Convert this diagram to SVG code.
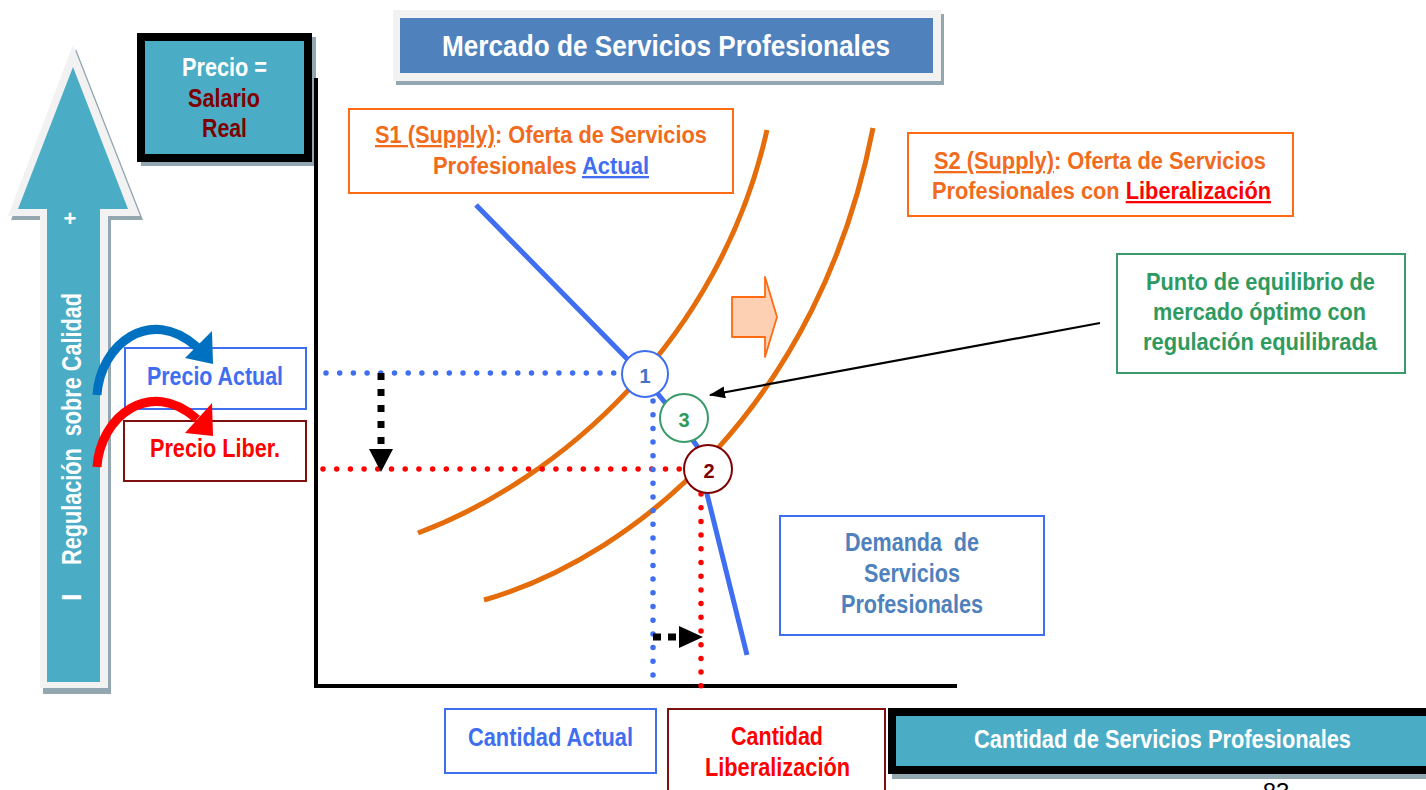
<svg xmlns="http://www.w3.org/2000/svg" width="1426" height="790" viewBox="0 0 1426 790">
<style>
text{font-family:"Liberation Sans",Arial,sans-serif;font-weight:bold;text-anchor:middle}
.w{fill:#ffffff}
.dr{fill:#7f0000}
.or{fill:#f26b1d}
.bl{fill:#3f6ef0}
.rd{fill:#ff0000}
.gr{fill:#2f9a5f}
.db{fill:#4f81bd}
.shadow{fill:#93a7b0}
.dot{fill:none;stroke-width:5.5;stroke-linecap:round}
.dash{fill:none;stroke:#000;stroke-width:7}
</style>
<defs>
<marker id="ah" viewBox="0 0 16 12" refX="15" refY="6" markerWidth="16" markerHeight="12" markerUnits="userSpaceOnUse" orient="auto">
<path d="M0,0 L16,6 L0,12 z" fill="#000"/>
</marker>
</defs>
<rect width="1426" height="790" fill="#ffffff"/>

<!-- big vertical arrow -->
<g id="regulacion-arrow">
<polygon class="shadow" points="76,49 143,220 111,220 111,694 43,694 43,220 11,220"/>
<polygon fill="#f2f2f2" points="73,45 140,216 108,216 108,688 40,688 40,216 8,216"/>
<polygon fill="#4bacc6" points="73,67 128,209 100,209 100,682 47,682 47,209 18,209"/>
<text class="w" x="70" y="226" font-size="22">+</text>
<text class="w" transform="translate(81,604) rotate(-90)" x="3" y="0" font-size="27" style="text-anchor:start">I</text>
<text class="w" transform="translate(81,565) rotate(-90)" x="0" y="0" font-size="27" style="text-anchor:start" textLength="272" lengthAdjust="spacingAndGlyphs" xml:space="preserve">Regulación  sobre Calidad</text>
</g>

<!-- Precio = Salario Real -->
<g id="precio-axis-label">
<rect class="shadow" x="141" y="37" width="175" height="129"/>
<rect x="137" y="33" width="175" height="129" fill="#000"/>
<rect x="145" y="41" width="159" height="113" fill="#4bacc6"/>
<text class="w" x="224.5" y="76" font-size="25" textLength="85" lengthAdjust="spacingAndGlyphs">Precio =</text>
<text class="dr" x="224" y="107" font-size="25" textLength="72" lengthAdjust="spacingAndGlyphs">Salario</text>
<text class="dr" x="224.5" y="137" font-size="25" textLength="45" lengthAdjust="spacingAndGlyphs">Real</text>
</g>

<!-- title -->
<g id="title">
<rect class="shadow" x="396" y="14" width="548" height="71"/>
<rect x="393" y="10" width="548" height="71" fill="#f2f2f2"/>
<rect x="400" y="18" width="533" height="55" fill="#4f81bd"/>
<text class="w" x="666" y="56" font-size="30" textLength="448" lengthAdjust="spacingAndGlyphs">Mercado de Servicios Profesionales</text>
</g>

<!-- axes -->
<g id="axes" fill="none" stroke="#000" stroke-width="4">
<line x1="316" y1="78" x2="316" y2="688"/>
<line x1="314" y1="686" x2="957" y2="686"/>
</g>

<!-- supply curves and demand -->
<g id="curves" fill="none">
<path id="s1-curve" d="M418,533 C560,480 720,340 767,130" stroke="#e46c0a" stroke-width="5"/>
<path id="s2-curve" d="M484,600 C640,555 820,400 873,128" stroke="#e46c0a" stroke-width="5"/>
<polyline id="demand-curve" points="476,205 640,372 667,405 697,446 706,490 747,655" stroke="#3f6ef0" stroke-width="5" stroke-linejoin="round"/>
</g>

<!-- connectors: dotted guides, dashed arrows, pointer -->
<g id="connectors">
<line class="dot" x1="326" y1="373" x2="620" y2="373" stroke="#3f6ef0" stroke-dasharray="0 13.7"/>
<line class="dot" x1="323" y1="469" x2="684" y2="469" stroke="#ff0000" stroke-dasharray="0 13.7"/>
<line class="dot" x1="653" y1="401" x2="653" y2="688" stroke="#3f6ef0" stroke-dasharray="0 13.7"/>
<line class="dot" x1="701" y1="494" x2="701" y2="686" stroke="#ff0000" stroke-dasharray="0 13.7"/>
<line class="dash" x1="381" y1="373" x2="381" y2="446" stroke-dasharray="7 9"/>
<polygon points="369,449 393,449 381,472" fill="#000"/>
<line class="dash" x1="653" y1="637" x2="678" y2="637" stroke-dasharray="8 7"/>
<polygon points="679,626 679,648 703,637" fill="#000"/>
<line x1="1100" y1="323" x2="710" y2="395" stroke="#000" stroke-width="2.2" marker-end="url(#ah)"/>
</g>

<!-- shift arrow -->
<g id="shift-arrow">
<polygon points="732,297 765,297 765,277 777,317 765,357 765,337 732,337" fill="#fdd0b4" stroke="#ff6a13" stroke-width="1.8" stroke-linejoin="round"/>
</g>

<!-- equilibrium points -->
<g id="point-1">
<circle cx="645" cy="374" r="23" fill="#fff" stroke="#3f6ef0" stroke-width="2"/>
<text x="645" y="383" font-size="20" fill="#4472c4">1</text>
</g>
<g id="point-3">
<circle cx="684" cy="418" r="24" fill="#fff" stroke="#3a9a6b" stroke-width="2"/>
<text x="684" y="427" font-size="20" class="gr">3</text>
</g>
<g id="point-2">
<circle cx="708" cy="469" r="24" fill="#fff" stroke="#7f0000" stroke-width="2"/>
<text x="709" y="478" font-size="20" class="dr">2</text>
</g>

<!-- S1 label -->
<g id="s1-label">
<rect x="349" y="109" width="384" height="84" fill="#fff" stroke="#ff6a13" stroke-width="2"/>
<text class="or" x="541" y="143" font-size="23" textLength="332" lengthAdjust="spacingAndGlyphs"><tspan text-decoration="underline">S1 (Supply)</tspan>: Oferta de Servicios</text>
<text class="or" x="541" y="174" font-size="23" textLength="216" lengthAdjust="spacingAndGlyphs">Profesionales <tspan class="bl" text-decoration="underline">Actual</tspan></text>
</g>

<!-- S2 label -->
<g id="s2-label">
<rect x="908" y="133" width="385" height="83" fill="#fff" stroke="#ff6a13" stroke-width="2"/>
<text class="or" x="1100" y="169" font-size="23" textLength="332" lengthAdjust="spacingAndGlyphs"><tspan text-decoration="underline">S2 (Supply)</tspan>: Oferta de Servicios</text>
<text class="or" x="1101.5" y="199" font-size="23" textLength="339" lengthAdjust="spacingAndGlyphs">Profesionales con <tspan class="rd" text-decoration="underline">Liberalización</tspan></text>
</g>

<!-- equilibrium label -->
<g id="equilibrio-label">
<rect x="1117" y="254" width="288" height="119" fill="#fff" stroke="#3a9a6b" stroke-width="2"/>
<text class="gr" x="1260.5" y="290" font-size="23" textLength="229" lengthAdjust="spacingAndGlyphs">Punto de equilibrio de</text>
<text class="gr" x="1259.5" y="320" font-size="23" textLength="213" lengthAdjust="spacingAndGlyphs">mercado óptimo con</text>
<text class="gr" x="1260" y="350" font-size="23" textLength="234" lengthAdjust="spacingAndGlyphs">regulación equilibrada</text>
</g>

<!-- price labels -->
<g id="precio-actual">
<rect x="125" y="348" width="181" height="61" fill="#fff" stroke="#3f6ef0" stroke-width="2"/>
<text class="bl" x="215" y="385" font-size="25" textLength="136" lengthAdjust="spacingAndGlyphs">Precio Actual</text>
</g>
<g id="precio-liber">
<rect x="124" y="421" width="182" height="60" fill="#fff" stroke="#7f1010" stroke-width="2"/>
<text class="rd" x="215" y="457" font-size="25" textLength="130" lengthAdjust="spacingAndGlyphs">Precio Liber.</text>
</g>

<!-- curved price arrows (drawn over the price labels) -->
<g id="price-arrows">
<path d="M97,395 C100,345 150,305 197,347" fill="none" stroke="#0070c0" stroke-width="9"/>
<polygon points="185,358 212,331 213,364" fill="#0070c0"/>
<path d="M97,467 C100,417 150,377 197,419" fill="none" stroke="#ff0000" stroke-width="9"/>
<polygon points="185,433 212,403 213,436" fill="#ff0000"/>
</g>

<!-- demand label -->
<g id="demanda-label">
<rect x="780" y="516" width="264" height="119" fill="#fff" stroke="#3f6ef0" stroke-width="2"/>
<text class="db" x="912" y="551" font-size="25" textLength="134" lengthAdjust="spacingAndGlyphs" xml:space="preserve">Demanda  de</text>
<text class="db" x="912" y="582" font-size="25" textLength="96" lengthAdjust="spacingAndGlyphs">Servicios</text>
<text class="db" x="912" y="613" font-size="25" textLength="142" lengthAdjust="spacingAndGlyphs">Profesionales</text>
</g>

<!-- quantity labels -->
<g id="cantidad-actual">
<rect x="445" y="709" width="211" height="64" fill="#fff" stroke="#3f6ef0" stroke-width="2"/>
<text class="bl" x="550.5" y="746" font-size="25" textLength="165" lengthAdjust="spacingAndGlyphs">Cantidad Actual</text>
</g>
<g id="cantidad-liberalizacion">
<rect x="668" y="709" width="217" height="90" fill="#fff" stroke="#7f1010" stroke-width="2"/>
<text class="rd" x="777" y="745" font-size="25" textLength="92" lengthAdjust="spacingAndGlyphs">Cantidad</text>
<text class="rd" x="777.5" y="776" font-size="25" textLength="145" lengthAdjust="spacingAndGlyphs">Liberalización</text>
</g>
<g id="cantidad-axis-label">
<rect class="shadow" x="892" y="712" width="540" height="67"/>
<rect x="888" y="708" width="540" height="66" fill="#000"/>
<rect x="896" y="716" width="532" height="50" fill="#4bacc6"/>
<text class="w" x="1162.5" y="748" font-size="25" textLength="377" lengthAdjust="spacingAndGlyphs">Cantidad de Servicios Profesionales</text>
</g>
<text x="1276" y="800" font-size="24" style="font-weight:normal" fill="#000">83</text>
</svg>
